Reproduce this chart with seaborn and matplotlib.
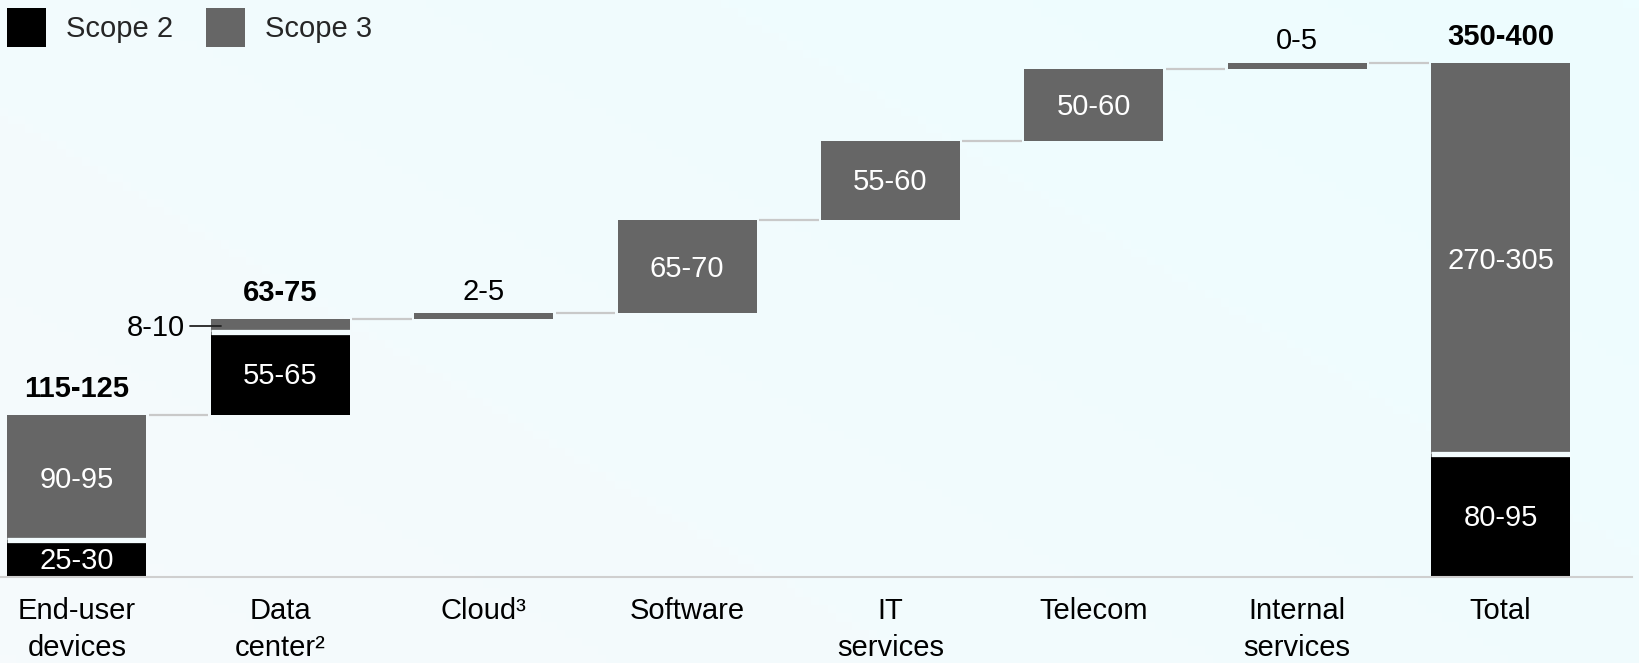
import numpy as np
import pandas as pd
import matplotlib
matplotlib.use("Agg")
import matplotlib.pyplot as plt
from matplotlib.patches import Patch
from matplotlib.colors import LinearSegmentedColormap
import seaborn as sns

# ---------------- data ----------------
categories = ["End-user\ndevices", "Data\ncenter²", "Cloud³", "Software",
              "IT\nservices", "Telecom", "Internal\nservices", "Total"]
scope2 = [27.0, 60.5, 0.0, 0.0, 0.0, 0.0, 0.0, 89.5]
scope3 = [91.0, 9.5, 4.5, 68.0, 58.0, 52.0, 5.0, 285.5]
scope2_labels = ["25-30", "55-65", "", "", "", "", "", "80-95"]
scope3_labels = ["90-95", "8-10", "2-5", "65-70", "55-60", "50-60", "0-5", "270-305"]
total_labels = ["115-125", "63-75", "", "", "", "", "", "350-400"]
legend_labels = ["Scope 2", "Scope 3"]

# ---------------- style ----------------
sns.set_style("white")
plt.rcParams["font.family"] = ["Liberation Sans", "DejaVu Sans"]
FS = 21
C2 = "#000000"
C3 = "#666666"
CONN = "#c9c9c9"
GAPC = "#f3fcfe"

s2 = np.array(scope2)
s3 = np.array(scope3)
seg = s2 + s3
base = np.concatenate([[0.0], np.cumsum(seg[:-1])])
base[-1] = 0.0  # total bar starts at zero
tops = base + seg

df = pd.DataFrame({"cat": categories, "s2": s2, "s3": s3,
                   "b2": base, "b3": base + s2})

fig = plt.figure(figsize=(16.39, 6.63), dpi=100)

# background gradient
bg = fig.add_axes([0, 0, 1, 1], zorder=-10)
cmap = LinearSegmentedColormap.from_list("bg", ["#f6fafc", "#edfdff"])
gx, gy = np.meshgrid(np.linspace(0, 1, 200), np.linspace(0, 1, 80))
bg.imshow(0.6 * gx + 0.4 * gy, cmap=cmap, aspect="auto", origin="lower",
          extent=[0, 1, 0, 1])
bg.axis("off")

ax = fig.add_axes([0, 86 / 663, 1632 / 1639, 577 / 663])
ax.set_facecolor("none")

W = 0.683
sns.barplot(data=df, x="cat", y="s2", order=categories, bottom=df["b2"].values,
            color=C2, saturation=1, width=W, linewidth=0, errorbar=None, ax=ax)
sns.barplot(data=df, x="cat", y="s3", order=categories, bottom=df["b3"].values,
            color=C3, saturation=1, width=W, linewidth=0, errorbar=None, ax=ax)

ax.set_xlim(-0.378, 7.646)
ax.set_ylim(0, 421.2)

# separators between stacked segments
for i in range(len(categories)):
    if s2[i] > 0 and s3[i] > 0:
        ax.hlines(base[i] + s2[i], i - W / 2, i + W / 2, color=GAPC,
                  lw=3.8, capstyle="butt", zorder=5)

# connectors
g = 0.012
for i in range(len(categories) - 1):
    lvl = tops[i]
    ax.hlines(lvl, i + W / 2 + g, i + 1 - W / 2 - g, color=CONN, lw=1.6, zorder=1)

# value labels
for i in range(len(categories)):
    if scope2_labels[i]:
        ax.annotate(scope2_labels[i], (i, base[i] + s2[i] / 2), xytext=(0, -1.5),
                    textcoords="offset points", ha="center", va="center",
                    color="white", fontsize=FS, zorder=6)
    lab = scope3_labels[i]
    mid = base[i] + s2[i] + s3[i] / 2
    if s3[i] >= 20:
        ax.annotate(lab, (i, mid), xytext=(0, -1.5), textcoords="offset points",
                    ha="center", va="center", color="white", fontsize=FS, zorder=6)
    elif s2[i] > 0:
        # leader label to the left
        xl = i - W / 2
        ax.plot([xl - 0.100, xl + 0.05], [mid, mid], color="#222222", lw=1.3, zorder=6)
        ax.annotate(lab, (xl - 0.128, mid), xytext=(0, -1.5), textcoords="offset points",
                    ha="right", va="center", color="black", fontsize=FS)
    else:
        ax.annotate(lab, (i, tops[i]), xytext=(0, 15.5), textcoords="offset points",
                    ha="center", va="center", color="black", fontsize=FS)
    if total_labels[i]:
        ax.annotate(total_labels[i], (i, tops[i]), xytext=(0, 19), textcoords="offset points",
                    ha="center", va="center", color="black", fontsize=FS,
                    fontweight="bold")

# axes styling
for sp in ["top", "right", "left"]:
    ax.spines[sp].set_visible(False)
ax.spines["bottom"].set_color("#cfcfcf")
ax.spines["bottom"].set_linewidth(1.5)
ax.set_xlabel("")
ax.set_ylabel("")
ax.set_yticks([])
ax.set_xticks(range(len(categories)))
ax.set_xticklabels(categories)
ax.tick_params(axis="x", length=0, pad=14.2, labelsize=FS, colors="black")
for t in ax.get_xticklabels():
    t.set_linespacing(1.40)
    t.set_verticalalignment("top")

# legend
handles = [Patch(facecolor=C2, edgecolor="none"), Patch(facecolor=C3, edgecolor="none")]
fig.legend(handles, legend_labels, loc="upper left", bbox_to_anchor=(7 / 1639, 1 - 8 / 663),
           ncol=2, frameon=False, fontsize=FS, borderpad=0, borderaxespad=0,
           handlelength=1.336, handleheight=1.678, handletextpad=0.68,
           columnspacing=1.13)

fig.savefig("out.png", dpi=100)
